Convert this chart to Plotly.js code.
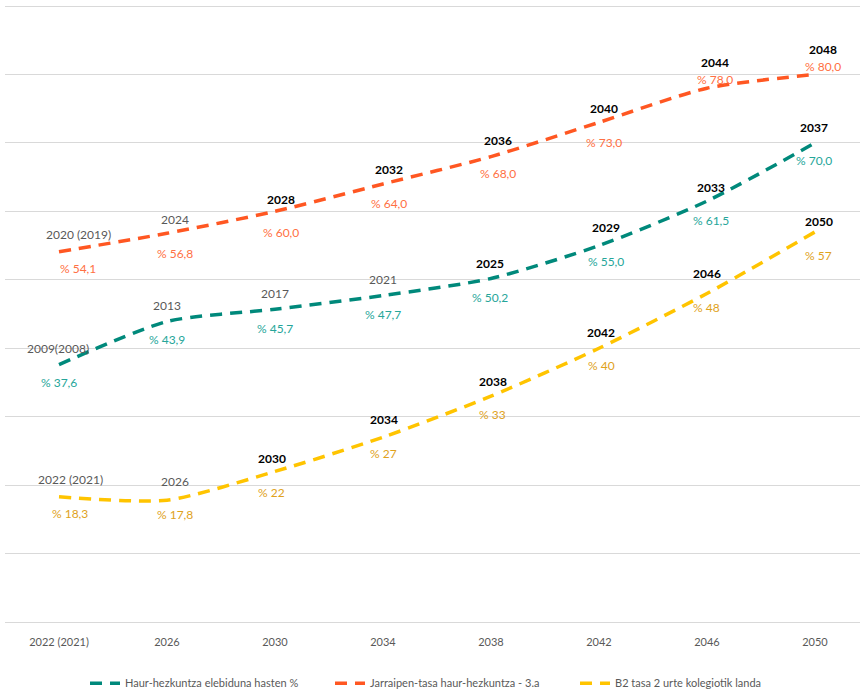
<!DOCTYPE html>
<html>
<head>
<meta charset="utf-8">
<script src="https://cdn.plot.ly/plotly-3.0.1.min.js"></script>
<style>
  html, body { margin: 0; padding: 0; background: #ffffff; }
  #chart { width: 861px; height: 692px; }
</style>
</head>
<body>
<div id="chart"></div>
<script>
// ---- Data ----
const categories = ['2022 (2021)', '2026', '2030', '2034', '2038', '2042', '2046', '2050'];

const tealName = 'Haur-hezkuntza elebiduna hasten %';
const tealValues = [37.6, 43.9, 45.7, 47.7, 50.2, 55.0, 61.5, 70.0];
const tealYears = ['2009(2008)', '2013', '2017', '2021', '2025', '2029', '2033', '2037'];
const tealPct = ['% 37,6', '% 43,9', '% 45,7', '% 47,7', '% 50,2', '% 55,0', '% 61,5', '% 70,0'];
const tealFirstProjected = 4;

const orangeName = 'Jarraipen-tasa haur-hezkuntza - 3.a';
const orangeValues = [54.1, 56.8, 60.0, 64.0, 68.0, 73.0, 78.0, 80.0];
const orangeYears = ['2020 (2019)', '2024', '2028', '2032', '2036', '2040', '2044', '2048'];
const orangePct = ['% 54,1', '% 56,8', '% 60,0', '% 64,0', '% 68,0', '% 73,0', '% 78,0', '% 80,0'];
const orangeFirstProjected = 2;

const yellowName = 'B2 tasa 2 urte kolegiotik landa';
const yellowValues = [18.3, 17.8, 22, 27, 33, 40, 48, 57];
const yellowYears = ['2022 (2021)', '2026', '2030', '2034', '2038', '2042', '2046', '2050'];
const yellowPct = ['% 18,3', '% 17,8', '% 22', '% 27', '% 33', '% 40', '% 48', '% 57'];
const yellowFirstProjected = 2;

// ---- Label placement (pixel offsets from each point, layout only) ----
const tealYearDx = [-1, 0, 0, 0, -1, 7, 4, -1];
const tealYearDy = [16, 16, 16, 16, 15, 18, 14, 15];
const tealPctDx  = [0, 0, 0, 0, -1, 7, 4, -1];
const tealPctDy  = [-18, -18, -19, -19, -19, -16, -19, -18];

const orangeYearDx = [19, 8, 6, 6, 7, 5, 8, 8];
const orangeYearDy = [17, 14, 12, 14, 16, 14, 26, 25];
const orangePctDx  = [19, 8, 6, 6, 7, 5, 8, 8];
const orangePctDy  = [-17, -20, -21, -20, -17, -20, 9, 8];

const yellowYearDx = [11, 8, -3, 1, 2, 2, 0, 4];
const yellowYearDy = [17, 19, 13, 18, 15, 16, 20, 10];
const yellowPctDx  = [11, 8, -3, 1, 2, 3, 0, 4];
const yellowPctDy  = [-17, -14, -21, -16, -18, -17, -14, -24];

// ---- Styles ----
const FONT = 'Lato, "Open Sans", sans-serif';
const GRAY = '#595959';
const tealLine = '#00897B', tealText = '#26A69A';
const orangeLine = '#FF5722', orangeText = '#FF7043';
const yellowLine = '#FFC400', yellowText = '#E0A21C';

function series(name, values, color) {
  return {
    type: 'scatter', mode: 'lines', name: name,
    x: categories, y: values,
    line: { color: color, width: 3.5, dash: '12px,8px', shape: 'spline', smoothing: 0.7 },
    hoverinfo: 'skip'
  };
}

const traces = [
  series(tealName, tealValues, tealLine),
  series(orangeName, orangeValues, orangeLine),
  series(yellowName, yellowValues, yellowLine)
];

const annotations = [];
function addLabels(values, years, pcts, firstProj, yDx, yDy, pDx, pDy, textColor) {
  values.forEach((v, i) => {
    const proj = i >= firstProj;
    annotations.push({
      x: i, y: v, xref: 'x', yref: 'y',
      text: proj ? '<b>' + years[i] + '</b>' : years[i],
      showarrow: false, xanchor: 'center', yanchor: 'middle',
      xshift: yDx[i], yshift: yDy[i],
      font: { family: FONT, size: 12, color: proj ? '#000000' : GRAY }
    });
    annotations.push({
      x: i, y: v, xref: 'x', yref: 'y',
      text: pcts[i],
      showarrow: false, xanchor: 'center', yanchor: 'middle',
      xshift: pDx[i], yshift: pDy[i],
      font: { family: FONT, size: 12, color: textColor }
    });
  });
}
addLabels(tealValues, tealYears, tealPct, tealFirstProjected, tealYearDx, tealYearDy, tealPctDx, tealPctDy, tealText);
addLabels(orangeValues, orangeYears, orangePct, orangeFirstProjected, orangeYearDx, orangeYearDy, orangePctDx, orangePctDy, orangeText);
addLabels(yellowValues, yellowYears, yellowPct, yellowFirstProjected, yellowYearDx, yellowYearDy, yellowPctDx, yellowPctDy, yellowText);

const layout = {
  width: 861, height: 692,
  margin: { l: 5, r: 1, t: 4, b: 70, pad: 0, autoexpand: false },
  paper_bgcolor: '#ffffff', plot_bgcolor: '#ffffff',
  font: { family: FONT, color: GRAY },
  showlegend: true,
  legend: {
    orientation: 'h', x: 0.0936, xanchor: 'left', y: -0.099, yanchor: 'middle',
    entrywidth: 200, entrywidthmode: 'pixels',
    font: { family: FONT, size: 11, color: GRAY },
    itemclick: false, itemdoubleclick: false, traceorder: 'normal'
  },
  xaxis: {
    type: 'category', range: [-0.5, 7.417],
    showgrid: false, zeroline: false, showline: false,
    ticks: '', tickfont: { family: FONT, size: 11, color: GRAY },
    ticklabelstandoff: 12, fixedrange: true
  },
  yaxis: {
    range: [0, 90.3], dtick: 10, tick0: 0,
    showgrid: true, gridcolor: '#D9D9D9', gridwidth: 1,
    zeroline: true, zerolinecolor: '#D9D9D9', zerolinewidth: 1,
    showticklabels: false, ticks: '', showline: false, fixedrange: true
  },
  annotations: annotations
};

Plotly.newPlot('chart', traces, layout, { staticPlot: true, displayModeBar: false });
</script>
</body>
</html>
